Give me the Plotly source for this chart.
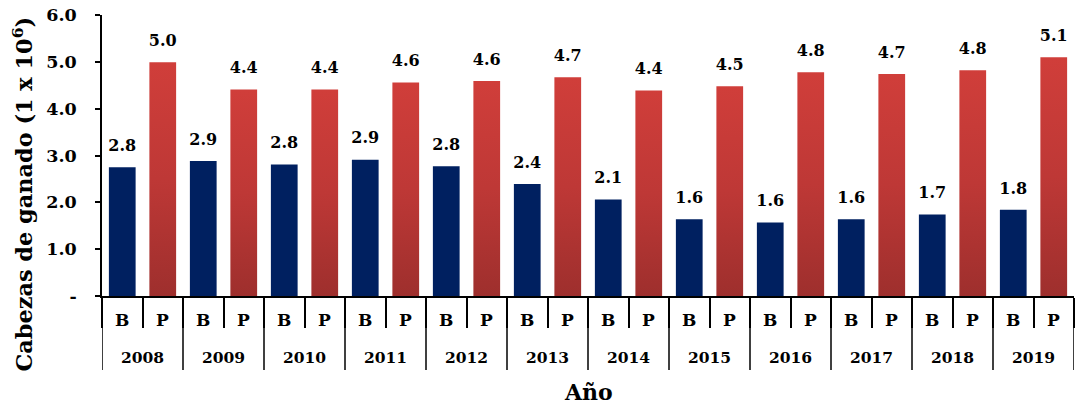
import plotly.graph_objects as go

# Cattle head counts (millions) by year: B and P series
years = ["2008", "2009", "2010", "2011", "2012", "2013",
         "2014", "2015", "2016", "2017", "2018", "2019"]
groups = ["B", "P"]
bovino = [2.75, 2.88, 2.81, 2.91, 2.77, 2.39, 2.06, 1.64, 1.57, 1.64, 1.74, 1.84]
porcino = [4.99, 4.41, 4.41, 4.56, 4.59, 4.67, 4.39, 4.48, 4.78, 4.74, 4.82, 5.10]
y_ticks = [0, 1, 2, 3, 4, 5, 6]
y_ticktext = ["-", "1.0", "2.0", "3.0", "4.0", "5.0", "6.0"]

FONT = "DejaVu Serif"
NAVY = "#002060"
RED = "#c93a38"
PLOT_H = 407 - 15 - 111  # plot-area height in px, used to place things below the axis

n = len(years)
pos_b = [2 * i for i in range(n)]
pos_p = [2 * i + 1 for i in range(n)]
bounds = [k - 0.5 for k in range(2 * n + 1)]

fig = go.Figure()
fig.add_trace(go.Bar(x=pos_b, y=bovino, width=0.66, marker=dict(color=NAVY, line=dict(width=0)),
                     hoverinfo="skip", showlegend=False))
fig.add_trace(go.Bar(x=pos_p, y=porcino, width=0.66, marker=dict(color=RED, line=dict(width=0)),
                     hoverinfo="skip", showlegend=False))

# value labels above the bars (transparent markers push the text up)
for xs, vals in ((pos_b, bovino), (pos_p, porcino)):
    fig.add_trace(go.Scatter(
        x=xs, y=vals, mode="markers+text",
        text=[f"{v:.1f}" for v in vals], textposition="top center",
        marker=dict(size=18, color="rgba(0,0,0,0)"),
        textfont=dict(family=FONT, size=16, color="black", weight="bold"),
        hoverinfo="skip", showlegend=False, cliponaxis=False,
    ))

annotations = []
# inner category labels (B / P)
for xs, g in ((pos_b, groups[0]), (pos_p, groups[1])):
    for x in xs:
        annotations.append(dict(x=x, y=0, xref="x", yref="paper", text=g, showarrow=False,
                                yanchor="middle", yshift=-24,
                                font=dict(family=FONT, size=17, weight="bold")))
# year labels
for i, yr in enumerate(years):
    annotations.append(dict(x=2 * i + 0.5, y=0, xref="x", yref="paper", text=yr, showarrow=False,
                            yanchor="middle", yshift=-61,
                            font=dict(family=FONT, size=15.5, weight="bold")))
# axis titles
annotations.append(dict(x=0.5, y=0, xref="paper", yref="paper", text="Año", showarrow=False,
                        yanchor="middle", yshift=-96,
                        font=dict(family=FONT, size=22, weight="bold")))
annotations.append(dict(x=0, y=0.5, xref="paper", yref="paper",
                        text="Cabezas de ganado (1 x 10<sup>6</sup>)", showarrow=False,
                        textangle=-90, xanchor="center", yanchor="middle",
                        xshift=-80, yshift=-39,
                        font=dict(family=FONT, size=22.4, weight="bold")))

# year dividers running through both label rows
shapes = [dict(type="line", xref="x", yref="paper", x0=b, x1=b, y0=0, y1=-74 / PLOT_H,
               line=dict(color="black", width=1.5))
          for b in bounds[::2]]

fig.update_layout(
    width=1078, height=407,
    margin=dict(l=102, r=4, t=15, b=111),
    paper_bgcolor="white", plot_bgcolor="white",
    barmode="overlay",
    font=dict(family=FONT, color="black", weight="bold"),
    annotations=annotations, shapes=shapes,
)
fig.update_yaxes(
    range=[0, 6], tickvals=y_ticks, ticktext=y_ticktext,
    showline=True, linecolor="black", linewidth=1.5,
    ticks="outside", ticklen=5, tickwidth=1.5, tickcolor="black",
    ticklabelstandoff=15,
    showgrid=False, zeroline=False,
    tickfont=dict(family=FONT, size=17.5, weight="bold"),
)
fig.update_xaxes(
    range=[-0.5, 2 * n - 0.5], tickvals=bounds, showticklabels=False,
    showline=True, linecolor="black", linewidth=1.5,
    ticks="outside", ticklen=30, tickwidth=1.5, tickcolor="black",
    showgrid=False, zeroline=False,
)

# vertical red gradient on the P bars
post = """
(function(){
  var gd = document.getElementById('{plot_id}');
  var ns = 'http://www.w3.org/2000/svg';
  function paint(){
    var svg = gd.querySelector('svg.main-svg');
    if(!svg) return;
    var defs = svg.querySelector('defs');
    if(!svg.querySelector('#pgrad')){
      var lg = document.createElementNS(ns, 'linearGradient');
      lg.setAttribute('id', 'pgrad');
      lg.setAttribute('x1', '0'); lg.setAttribute('y1', '0');
      lg.setAttribute('x2', '0'); lg.setAttribute('y2', '1');
      [['0%', 'rgb(208,62,58)'], ['50%', 'rgb(190,56,54)'], ['100%', 'rgb(158,47,45)']].forEach(function(s){
        var st = document.createElementNS(ns, 'stop');
        st.setAttribute('offset', s[0]); st.setAttribute('stop-color', s[1]);
        lg.appendChild(st);
      });
      defs.appendChild(lg);
    }
    var bars = gd.querySelectorAll('g.trace.bars');
    if(bars.length > 1){
      bars[1].querySelectorAll('path').forEach(function(p){ p.style.fill = 'url(#pgrad)'; });
    }
  }
  paint();
  gd.on('plotly_afterplot', paint);
})();
"""

fig.write_html("out.html", post_script=post)
